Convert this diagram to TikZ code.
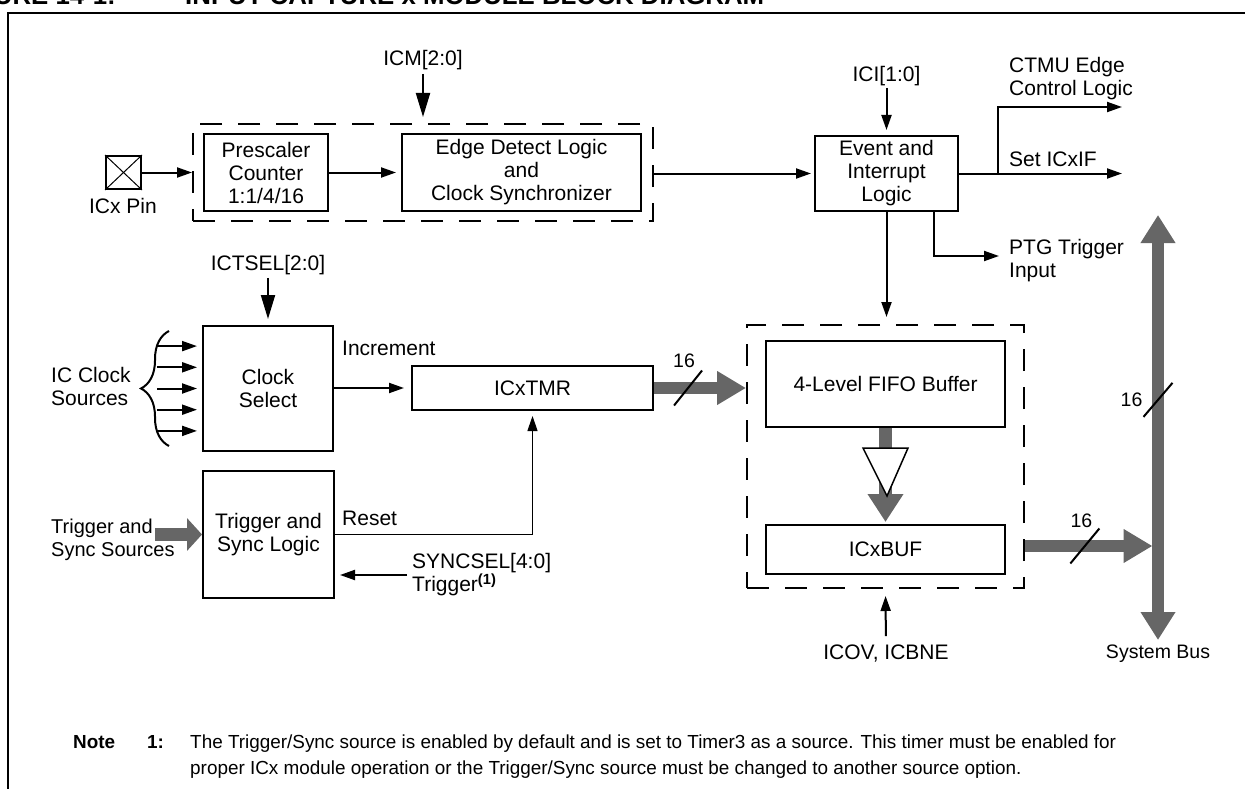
\documentclass[tikz,border=0pt]{standalone}
\usepackage{fontspec}
\setmainfont{Liberation Sans}
\usetikzlibrary{arrows.meta,calc,decorations.pathreplacing}
\definecolor{busgray}{RGB}{102,102,102}

\begin{document}
\begin{tikzpicture}
[x=1pt,y=-1pt,
 block/.style={draw,line width=2pt,inner sep=0pt,align=center,font=\fontsize{21}{23}\selectfont},
 dashbox/.style={draw,line width=2pt,dash pattern=on 22pt off 16pt},
 txt/.style={inner sep=0pt,align=left,font=\fontsize{21}{23}\selectfont},
 small/.style={inner sep=0pt,font=\fontsize{19.5}{22}\selectfont},
 arr/.style={line width=2pt,-{Triangle[length=15pt,width=10pt]}},
 bigarr/.style={line width=2pt,-{Triangle[length=24pt,width=14pt]}},
 bus/.style={draw=busgray,line width=12.5pt,-{Triangle[length=29pt,width=32pt]}},
 cut/.style={line width=2pt}]

\useasboundingbox (0,0) rectangle (1245,789);

% frame and caption
\draw[line width=2.5pt] (8,800) -- (8,13) -- (1260,13);
\node (fig) at (116,5) [anchor=base east,inner sep=0pt,font=\bfseries\fontsize{25.8}{28}\selectfont] {FIGURE 14-1:};
\node (cap) at (185,5) [anchor=base west,inner sep=0pt,font=\bfseries\fontsize{25.8}{28}\selectfont] {INPUT CAPTURE x MODULE BLOCK DIAGRAM};

% input stage
\node (pin) at (123.5,172.5) [draw,line width=2pt,minimum width=35pt,minimum height=33pt,inner sep=0pt] {};
\draw[line width=1pt] (pin.north west) -- (pin.south east) (pin.north east) -- (pin.south west);
\node (pinlbl) at (123,206) [txt] {ICx Pin};

\node (dash1) at (423,172.5) [dashbox,minimum width=460pt,minimum height=97pt] {};
\node (presc) at (266,172.5) [block,minimum width=124pt,minimum height=77pt] {Prescaler\\Counter\\1:1/4/16};
\node (edge) at (521.5,172.5) [block,minimum width=239pt,minimum height=77pt] {Edge Detect Logic\\and\\Clock Synchronizer};
\node (icm) at (423,60) [txt] {ICM[2:0]};

\draw[bigarr,shorten <=4pt,shorten >=6pt] (icm) -- (dash1.north);
\draw[arr] (pin.east) -- (dash1.west);
\draw[arr,shorten >=5pt] (presc) -- (edge);

% event and interrupt
\node (event) at (886.5,173.5) [block,minimum width=143pt,minimum height=75pt] {Event and\\Interrupt\\Logic};
\node (ici) at (886.5,76) [txt] {ICI[1:0]};
\draw[arr,shorten <=2pt,shorten >=5pt] (ici) -- (event.north);
\draw[arr,shorten >=3pt] (dash1.east |- event) -- (event.west);

\coordinate (fork) at (998,173.5);
\coordinate (ctmu) at (1122,107);
\coordinate (setif) at (1122,173.5);
\coordinate (ptg) at (999,256);
\draw[arr] (event.east) -- (setif);
\draw[arr] (fork) |- (ctmu);
\draw[arr] ([xshift=-25pt]event.south east) |- (ptg);

\node (ctmulbl) at (1009,78.5) [txt,anchor=west] {CTMU Edge\\Control Logic};
\node (setiflbl) at (1009,166) [txt,anchor=base west] {Set ICxIF};
\node (ptglbl) at (1009,260.5) [txt,anchor=west] {PTG Trigger\\Input};

% fifo
\node (dash2) at (885.5,456.5) [dashbox,minimum width=277pt,minimum height=263pt] {};
\node (fifo) at (885.5,384) [block,minimum width=239pt,minimum height=86pt] {4-Level FIFO Buffer};
\node (icxbuf) at (885.5,549.5) [block,minimum width=239pt,minimum height=49pt] {ICxBUF};
\draw[arr,shorten >=7pt] (event.south) -- (event.south |- dash2.north);

\draw[bus,-{Triangle[length=28pt,width=34pt]},shorten >=2pt] (fifo.south) -- (icxbuf.north);
\draw[line width=1.5pt,fill=white] ($(fifo.south)+(-22.5,20)$) -- ++(45,0) -- ($(fifo.south)+(1.5,68)$) -- cycle;

\node (icov) at (886,654) [txt] {ICOV, ICBNE};
\draw[arr,shorten <=9pt,shorten >=7pt] (icov) -- (dash2.south);

% system bus
\coordinate (bustop) at (1158,215);
\coordinate (busbot) at (1158,640);
\draw[bus,line width=11.5pt,{Triangle[length=28pt,width=33pt]}-{Triangle[length=28pt,width=33pt]}] (bustop) -- (busbot) coordinate[pos=0.435] (w3);
\node (buslbl) at (1158,654) [small] {System Bus};

\draw[bus,line width=11.5pt,shorten >=5.5pt] (dash2.east |- 0,546) -- (busbot |- 0,546) coordinate[pos=0.45] (w2);
\draw[cut] ($(w2)+(-14.5,17.5)$) -- ($(w2)+(14.5,-17.5)$);
\node (n16b) at ($(w2)+(-3.5,-25.5)$) [small] {16};
\draw[cut] ($(w3)+(-14.5,17)$) -- ($(w3)+(14.5,-17)$);
\node (n16c) at ($(w3)+(-26.5,0)$) [small] {16};

% clock select and timer
\node (clksel) at (268,388.5) [block,minimum width=130pt,minimum height=125pt] {Clock\\Select};
\node (ictsel) at (268,265) [txt] {ICTSEL[2:0]};
\draw[bigarr,shorten <=3pt,shorten >=6pt] (ictsel) -- (clksel);

\foreach \k in {-2,...,2}
  \draw[arr] ($(clksel.west)+(-45,\k*21.2)$) -- ($(clksel.west)+(-5,\k*21.2)$);
\draw[line width=2pt,decorate,decoration={brace,amplitude=28pt}] ($(clksel.west)+(-33,57.5)$) -- ($(clksel.west)+(-33,-57.5)$);
\node (clklbl) at (51,386) [txt,anchor=west] {IC Clock\\Sources};

\node (icxtmr) at (532.5,388) [block,minimum width=241pt,minimum height=44pt] {ICxTMR};
\draw[arr,shorten >=7pt] (clksel.east |- icxtmr) -- (icxtmr.west);
\node (incr) at (342,355) [txt,anchor=base west] {Increment};

\draw[bus] (icxtmr.east) -- (dash2.west |- icxtmr) coordinate[pos=0.37] (w1);
\draw[cut] ($(w1)+(-14,17.5)$) -- ($(w1)+(14,-17.5)$);
\node (n16a) at ($(w1)+(-4,-27)$) [small] {16};

% trigger and sync
\node (trig) at (268.5,534.5) [block,minimum width=131pt,minimum height=127pt] {Trigger and\\Sync Logic};
\coordinate (tsrc) at (155,534.5);
\draw[bus,line width=13pt,-{Triangle[length=15pt,width=32pt]}] (tsrc) -- (trig.west);
\node (trgsrc) at (51,540) [txt,anchor=west,font=\fontsize{20}{23}\selectfont] {Trigger and\\Sync Sources};

\draw[line width=1.2pt,-{Triangle[length=15pt,width=10pt]},shorten >=5pt] (trig.east) -| (icxtmr.south);
\node (rstlbl) at (342,525) [txt,anchor=base west] {Reset};

\node (sync) at (412,575) [txt,anchor=west] {SYNCSEL[4:0]\\Trigger\textsuperscript{\textbf{(1)}}};
\draw[arr,shorten <=5pt,shorten >=5pt] (sync.west) -- (sync.west -| trig.east);

% note
\node (note) at (73,748) [anchor=base west,inner sep=0pt,font=\bfseries\fontsize{18.9}{26}\selectfont] {Note};
\node (note1) at (147,748) [anchor=base west,inner sep=0pt,font=\bfseries\fontsize{18.9}{26}\selectfont] {1:};
\node (notetxt) at (190,734.5) [anchor=north west,inner sep=0pt,align=left,font=\fontsize{18.9}{26}\selectfont]
  {The Trigger/Sync source is enabled by default and is set to Timer3 as a source. This timer must be enabled for\\
   proper ICx module operation or the Trigger/Sync source must be changed to another source option.};
\end{tikzpicture}
\end{document}
